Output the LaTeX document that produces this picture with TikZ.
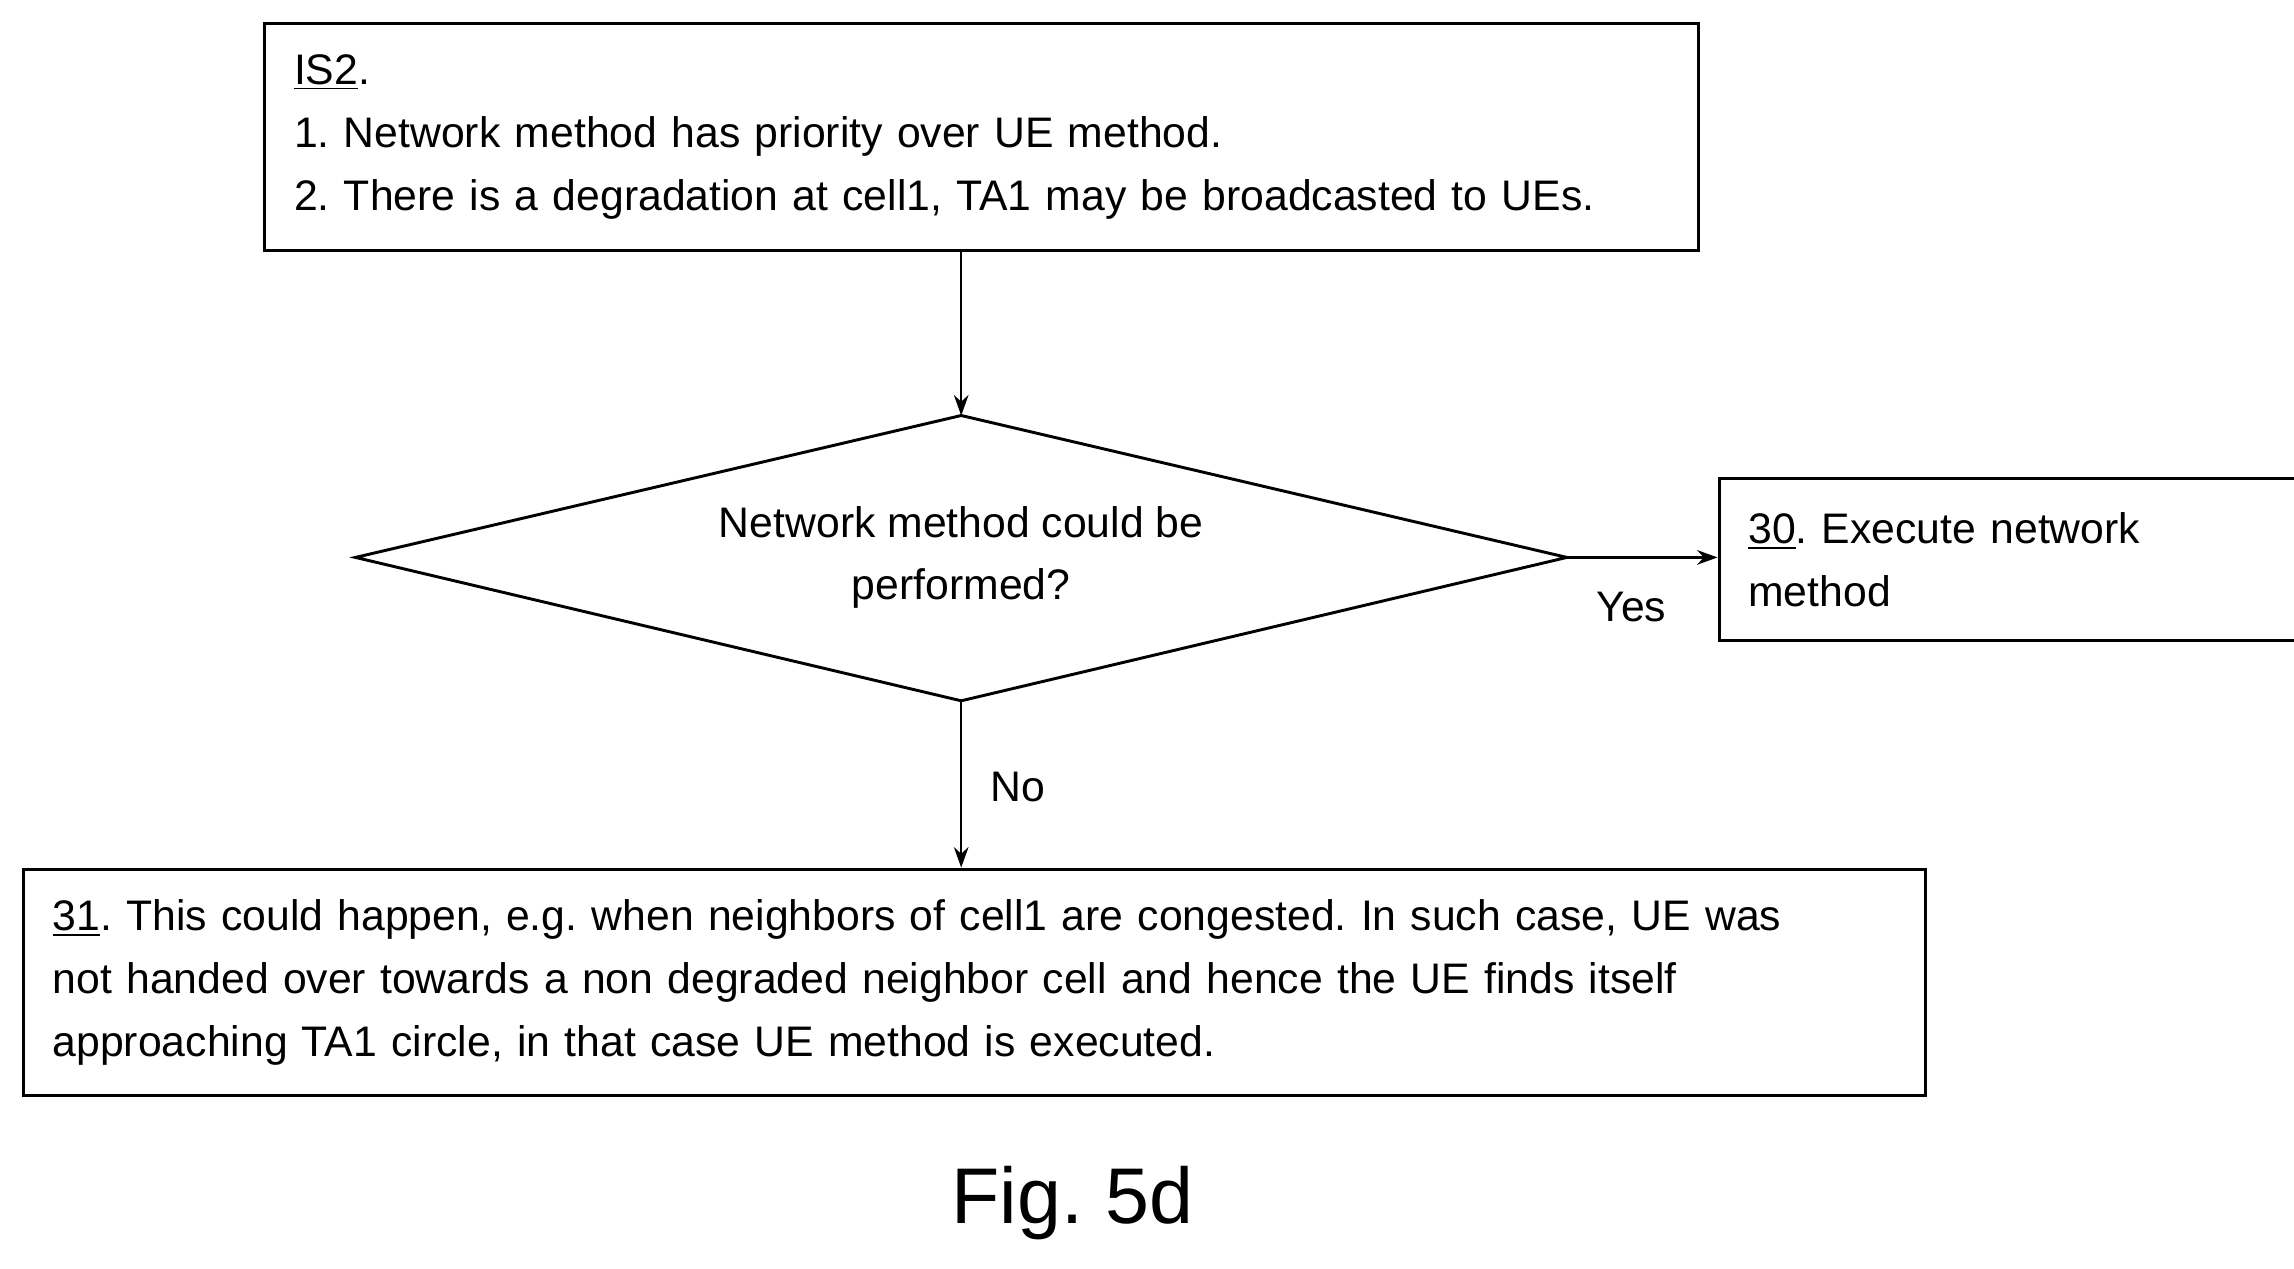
\documentclass[tikz,border=0pt]{standalone}
\usepackage{fontspec}
\setmainfont{Liberation Sans}
\usetikzlibrary{arrows.meta}
\frenchspacing
\begin{document}
\begin{tikzpicture}[x=0.5bp,y=-0.5bp,
  box/.style={draw,line width=1bp,rectangle,inner xsep=10bp,inner ysep=0pt,align=left,font=\fontsize{14.6bp}{21.5bp}\selectfont},
  arr/.style={line width=0.8bp,-{Stealth[length=7bp,width=5bp]}},
  lab/.style={font=\fontsize{14.6bp}{21.5bp}\selectfont}]
\useasboundingbox (0,0) rectangle (1568,867);
\node[box,anchor=north west,minimum width=476.5bp,minimum height=77.5bp,text width=470bp] (is2) at (180,15)
 {\underline{IS2}.\\1. Network method has priority over UE method.\\2. There is a degradation at cell1, TA1 may be broadcasted to UEs.};
\coordinate (dn) at (657,284);
\coordinate (de) at (1071,381);
\coordinate (ds) at (657,479);
\coordinate (dw) at (243,381);
\draw[line width=1bp] (dn) -- (de) -- (ds) -- (dw) -- cycle;
\node[align=center,lab] (d) at (657,381) {Network method could be\\performed?};
\node[box,anchor=north west,minimum width=189bp,minimum height=55.5bp,text width=180bp] (b30) at (1174,326)
 {\underline{30}. Execute network\\method};
\node[box,anchor=north west,minimum width=641bp,minimum height=77.5bp,text width=630bp] (b31) at (15,593)
 {\underline{31}. This could happen, e.g. when neighbors of cell1 are congested. In such case, UE was\\not handed over towards a non degraded neighbor cell and hence the UE finds itself\\approaching TA1 circle, in that case UE method is executed.};
\draw[arr] (is2.south -| dn) -- (dn);
\draw[arr] (de) -- (de -| b30.west);
\draw[arr] (ds) -- (ds |- b31.north);
\node[lab] (yes) at (1115,415) {Yes};
\node[lab] (no) at (696,538) {No};
\node[font=\fontsize{27bp}{30bp}\selectfont] (fig) at (733,822) {Fig. 5d};
\end{tikzpicture}
\end{document}
